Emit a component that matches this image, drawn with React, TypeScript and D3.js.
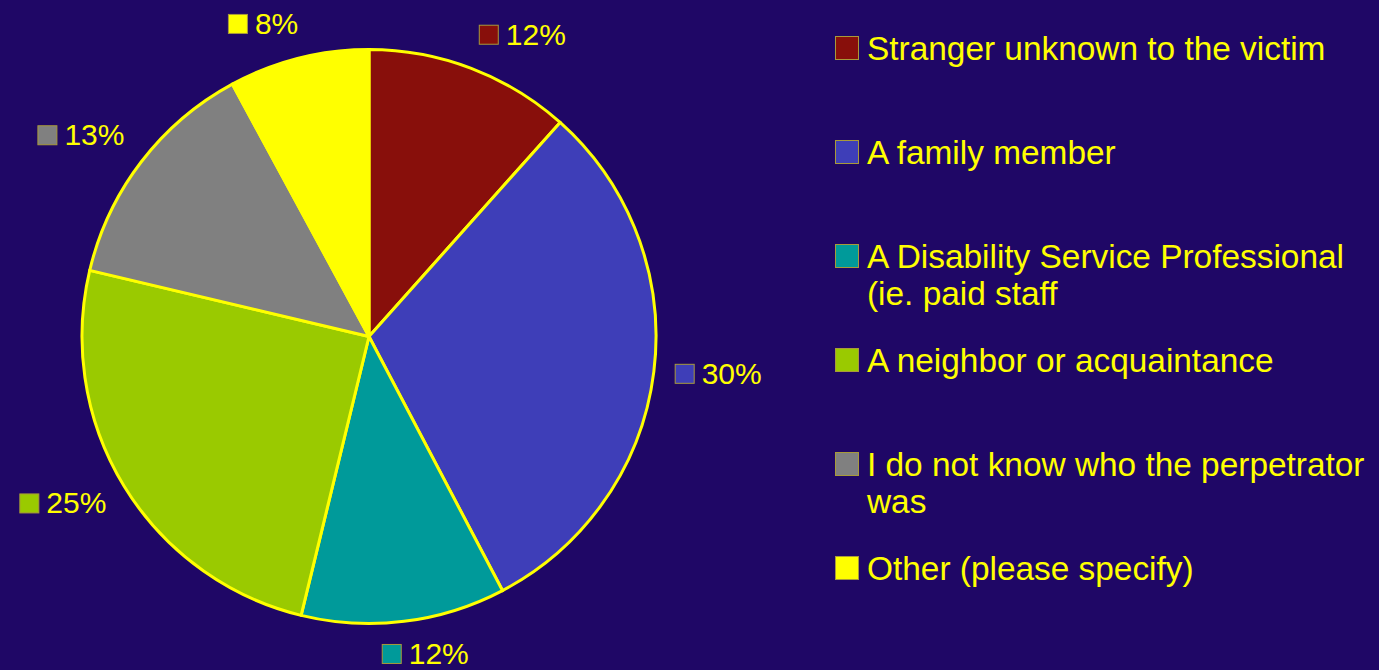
import React, { useMemo } from "react";
import * as d3 from "d3";

const categories = [
  "Stranger unknown to the victim",
  "A family member",
  "A Disability Service Professional\n(ie. paid staff",
  "A neighbor or acquaintance",
  "I do not know who the perpetrator\nwas",
  "Other (please specify)",
];
const values = [11.6, 30.7, 11.5, 24.9, 13.4, 7.9];
const pctLabels = ["12%", "30%", "12%", "25%", "13%", "8%"];
const colors = ["#880F0B", "#3E3EB8", "#009A9A", "#9ACA00", "#808080", "#FFFF00"];

const W = 1379;
const H = 670;
const BG = "#1F0766";
const TXT = "#FFFF00";
const FONT = "Arial, 'Liberation Sans', sans-serif";

function measure(text: string, size: number): number {
  const c = document.createElement("canvas").getContext("2d");
  if (!c) return text.length * size * 0.55;
  c.font = `${size}px Arial, 'Liberation Sans', sans-serif`;
  return c.measureText(text).width;
}

export default function App() {
  const cx = 369;
  const cy = 336.5;
  const R = 287;

  const arcs = useMemo(
    () =>
      d3
        .pie<number>()
        .sort(null)
        .startAngle(0)
        .endAngle(2 * Math.PI)(values),
    []
  );
  const arcGen = d3.arc<d3.PieArcDatum<number>>().innerRadius(0).outerRadius(R);

  const clamp = (v: number) => Math.max(-1, Math.min(1, v));
  const clamp01 = (v: number) => Math.max(0, Math.min(1, v));
  const labelFont = 30;
  const sq = 20;

  const legendTop = d3.scaleLinear().domain([0, 1]).range([36, 140]);
  const legendSq = 24;
  const legendX = 835.5;
  const legendTextX = 867;

  return (
    <div style={{ position: "fixed", left: 0, top: 0, width: W, height: H }}>
      <svg width={W} height={H} style={{ display: "block" }} fontFamily={FONT}>
        <rect x={0} y={0} width={W} height={H} fill={BG} />
        <g transform={`translate(${cx},${cy})`}>
          {arcs.map((a, i) => (
            <path
              key={i}
              d={arcGen(a) || ""}
              fill={colors[i]}
              stroke={TXT}
              strokeWidth={3}
              strokeLinejoin="round"
            />
          ))}
        </g>
        {arcs.map((a, i) => {
          const mid = (a.startAngle + a.endAngle) / 2;
          const s = Math.sin(mid);
          const c = Math.cos(mid);
          const rr = R + 21;
          const px = cx + s * rr;
          const py = cy - c * rr;
          const tw = measure(pctLabels[i], labelFont);
          const w = sq + 7 + tw;
          const h = sq;
          const left = px - (w * (1 - clamp(s * 3.5))) / 2;
          const shift = -4 + 6 * clamp01((-c - 0.8) * 5);
          const top = py - (h * (1 + clamp(c * 3))) / 2 + shift;
          return (
            <g key={i}>
              <rect
                x={left + 0.5}
                y={top + 0.5}
                width={sq - 1}
                height={sq - 1}
                fill={colors[i]}
                stroke="#A89A3A"
                strokeWidth={1}
              />
              <text x={left + sq + 7} y={top + sq} fill={TXT} fontSize={labelFont}>
                {pctLabels[i]}
              </text>
            </g>
          );
        })}
        {categories.map((cat, i) => {
          const top = legendTop(i);
          const lines = cat.split("\n");
          return (
            <g key={i}>
              <rect
                x={legendX}
                y={top + 0.5}
                width={legendSq - 1}
                height={legendSq - 1}
                fill={colors[i]}
                stroke="#A89A3A"
                strokeWidth={1}
              />
              <text x={legendTextX} y={top + legendSq} fill={TXT} fontSize={33.4}>
                {lines.map((l, j) => (
                  <tspan key={j} x={legendTextX} dy={j === 0 ? 0 : 37}>
                    {l}
                  </tspan>
                ))}
              </text>
            </g>
          );
        })}
      </svg>
    </div>
  );
}
